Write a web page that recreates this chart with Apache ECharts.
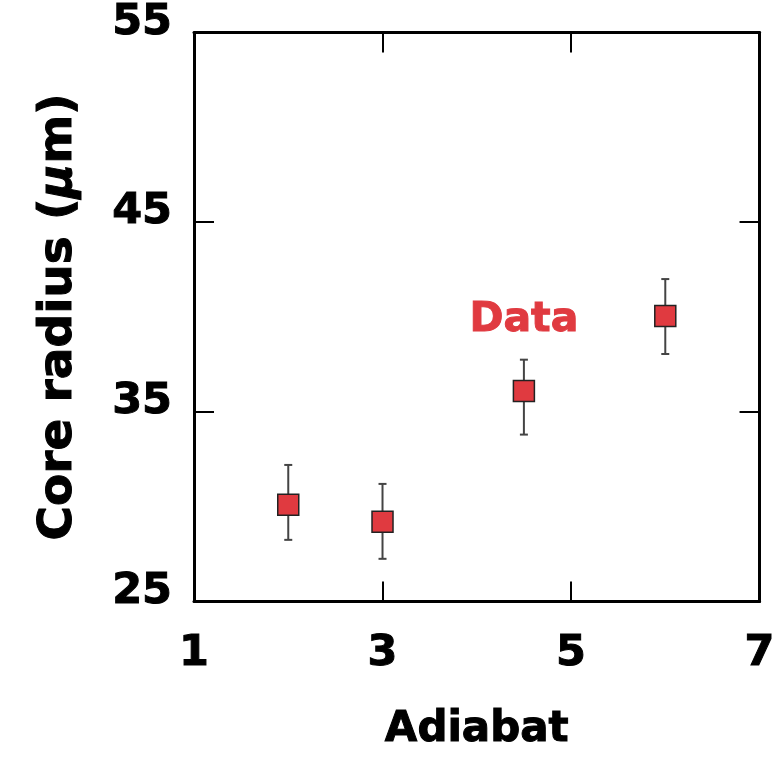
<!DOCTYPE html>
<html>
<head>
<meta charset="utf-8">
<script src="https://cdn.jsdelivr.net/npm/echarts@6/dist/echarts.min.js"></script>
<style>
html,body{margin:0;padding:0;background:#fff;}
#chart{width:778px;height:757px;}
</style>
</head>
<body>
<div id="chart"></div>
<script>
const adiabat = [2, 3, 4.5, 6];
const coreRadius = [30.1, 29.2, 36.1, 40.05];
const errUpper = [32.2, 31.2, 37.75, 42.0];
const errLower = [28.25, 27.25, 33.8, 38.05];
const xTicks = [1, 3, 5, 7];
const yTicks = [25, 35, 45, 55];
const dataLabel = 'Data';
const dataLabelPos = [4.5, 39.85];

const FONT = 'DejaVu Sans';
const RED = '#e03a40';

const chart = echarts.init(document.getElementById('chart'), null, {renderer: 'canvas'});

const points = adiabat.map((x, i) => [x, coreRadius[i]]);
const errData = adiabat.map((x, i) => [x, errLower[i], errUpper[i]]);

const axisLineStyle = {color: '#000', width: 3};
const tickStyle = {color: '#000', width: 2};
const boldText = {fontFamily: FONT, fontWeight: 'bold', color: '#000', textBorderColor: '#000', textBorderWidth: 1};

const option = {
  animation: false,
  backgroundColor: '#fff',
  grid: {left: 194, top: 32.5, right: 16.5, bottom: 155.5, containLabel: false},
  xAxis: [
    {
      type: 'value', min: xTicks[0], max: xTicks[xTicks.length - 1], interval: 2,
      position: 'bottom',
      name: 'Adiabat', nameLocation: 'middle', nameGap: 108,
      nameTextStyle: Object.assign({fontSize: 42}, boldText),
      axisLine: {show: true, lineStyle: axisLineStyle},
      axisTick: {show: true, inside: true, length: 20, lineStyle: tickStyle},
      axisLabel: Object.assign({show: true, margin: 31, fontSize: 43}, boldText),
      splitLine: {show: false}
    },
    {
      type: 'value', min: xTicks[0], max: xTicks[xTicks.length - 1], interval: 2,
      position: 'top',
      axisLine: {show: true, lineStyle: axisLineStyle},
      axisTick: {show: true, inside: true, length: 20, lineStyle: tickStyle},
      axisLabel: {show: false},
      splitLine: {show: false}
    }
  ],
  yAxis: [
    {
      type: 'value', min: yTicks[0], max: yTicks[yTicks.length - 1], interval: 10,
      position: 'left',
      name: 'Core radius ({mu|μ}m)', nameLocation: 'middle', nameGap: 112, nameRotate: 90,
      nameTextStyle: Object.assign({
        fontSize: 47,
        rich: {mu: Object.assign({fontStyle: 'italic', fontSize: 47}, boldText)}
      }, boldText),
      axisLine: {show: true, lineStyle: axisLineStyle},
      axisTick: {show: true, inside: true, length: 20, lineStyle: tickStyle},
      axisLabel: Object.assign({show: true, margin: 22, fontSize: 43, verticalAlign: 'bottom', lineHeight: 20}, boldText),
      splitLine: {show: false}
    },
    {
      type: 'value', min: yTicks[0], max: yTicks[yTicks.length - 1], interval: 10,
      position: 'right',
      axisLine: {show: true, lineStyle: axisLineStyle},
      axisTick: {show: true, inside: true, length: 20, lineStyle: tickStyle},
      axisLabel: {show: false},
      splitLine: {show: false}
    }
  ],
  series: [
    {
      type: 'custom',
      xAxisIndex: 0, yAxisIndex: 0,
      data: errData,
      z: 2,
      renderItem: function (params, api) {
        const x = api.value(0);
        const lo = api.coord([x, api.value(1)]);
        const hi = api.coord([x, api.value(2)]);
        const cap = 4;
        const style = {stroke: '#444', lineWidth: 2};
        return {
          type: 'group',
          children: [
            {type: 'line', shape: {x1: lo[0], y1: lo[1], x2: hi[0], y2: hi[1]}, style: style},
            {type: 'line', shape: {x1: lo[0] - cap, y1: lo[1], x2: lo[0] + cap, y2: lo[1]}, style: style},
            {type: 'line', shape: {x1: hi[0] - cap, y1: hi[1], x2: hi[0] + cap, y2: hi[1]}, style: style}
          ]
        };
      }
    },
    {
      type: 'scatter',
      xAxisIndex: 0, yAxisIndex: 0,
      data: points,
      symbol: 'rect',
      symbolSize: 21,
      z: 3,
      itemStyle: {color: RED, borderColor: '#222', borderWidth: 1.5, opacity: 1},
      markPoint: {
        symbol: 'circle', symbolSize: 0,
        data: [{coord: dataLabelPos, value: dataLabel}],
        label: {show: true, formatter: dataLabel, position: 'inside', fontFamily: FONT, fontWeight: 'bold', fontSize: 41, color: RED, textBorderColor: RED, textBorderWidth: 1}
      }
    }
  ]
};
chart.setOption(option);
</script>
</body>
</html>
